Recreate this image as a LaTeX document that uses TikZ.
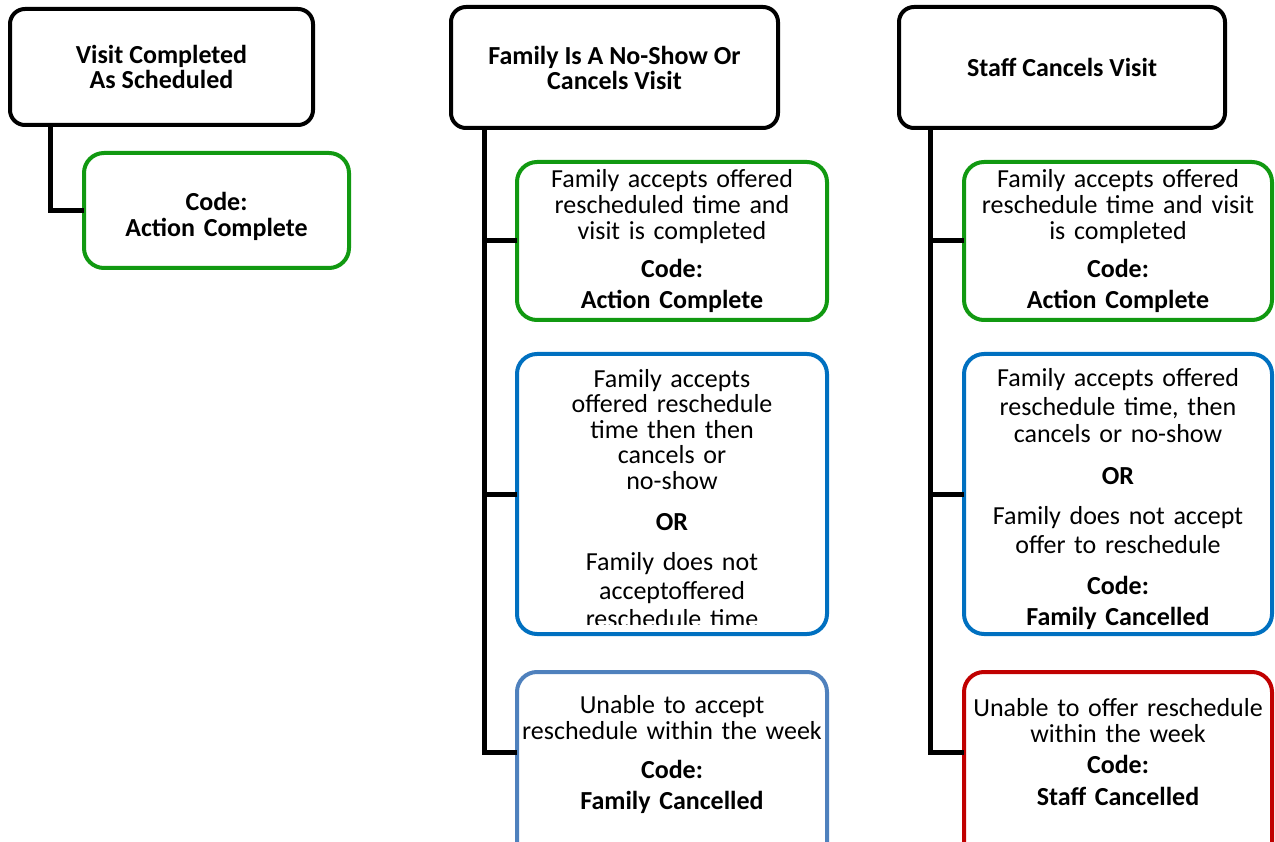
\documentclass[tikz,border=0pt]{standalone}
\usepackage{fontspec}
\setmainfont{Carlito}
\usetikzlibrary{positioning}
\definecolor{codegreen}{RGB}{17,153,17}
\definecolor{codeblue}{RGB}{0,112,192}
\definecolor{codelblue}{RGB}{79,129,189}
\definecolor{codered}{RGB}{192,0,0}

\begin{document}
\begin{tikzpicture}[x=1pt, y=1pt,
  head/.style={draw, line width=4pt, rounded corners=15pt, align=center, inner sep=0pt, outer sep=0pt, font=\bfseries\fontsize{26}{25}\selectfont},
  codebox/.style={draw, line width=4pt, rounded corners=20pt, align=center, inner xsep=4pt, inner ysep=0pt, outer sep=0pt, font=\fontsize{26}{26}\selectfont},
  openbox/.style={codebox, inner ysep=23pt, text depth=130pt},
  link/.style={line width=5pt}]
\useasboundingbox (0,0) rectangle (1275,-842);

% Define nodes
\node[head, minimum width=303pt, minimum height=116pt, anchor=north west] (visit) at (10,-9) {Visit Completed\\As Scheduled};
\node[head, minimum width=327pt, minimum height=121pt, right=138pt of visit.north east, anchor=north west, yshift=2pt] (family) {Family Is A No-Show Or\\Cancels Visit};
\node[head, minimum width=326pt, minimum height=121pt, right=121pt of family.north east, anchor=north west] (staff) {Staff Cancels Visit};

\node[codebox, draw=codegreen, text width=257pt, text height=58pt, text depth=57pt, below right=28pt and 74pt of visit.south west] (visitdone) {\textbf{Code:}\\\textbf{Action Complete}};

\node[codebox, draw=codegreen, text width=302pt, minimum height=158pt, below right=34pt and 66pt of family.south west] (famok) {Family accepts offered\\rescheduled time and\\visit is completed\\[12pt]\textbf{Code:}\\[5pt]\textbf{Action Complete}};
\node[codebox, draw=codeblue, text width=302pt, minimum height=280pt, below=34pt of famok.south west, anchor=north west] (famno) {};
\node[openbox, draw=codelblue, text width=302pt, below=38pt of famno.south west, anchor=north west] (famcancel) {Unable to accept\\reschedule within the week\\[13pt]\textbf{Code:}\\[5pt]\textbf{Family Cancelled}};

\node[codebox, draw=codegreen, text width=300pt, minimum height=158pt, below right=34pt and 65pt of staff.south west] (staffok) {Family accepts offered\\reschedule time and visit\\is completed\\[12pt]\textbf{Code:}\\[5pt]\textbf{Action Complete}};
\node[codebox, draw=codeblue, text width=300pt, text height=32pt, text depth=248pt, below=34pt of staffok.south west, anchor=north west] (staffno) {Family accepts offered\\[3pt]reschedule time, then\\[2pt]cancels or no-show\\[16pt]\textbf{OR}\\[14pt]Family does not accept\\[3pt]offer to reschedule\\[15pt]\textbf{Code:}\\[5pt]\textbf{Family Cancelled}};
\node[openbox, draw=codered, text width=300pt, inner ysep=26pt, below=38pt of staffno.south west, anchor=north west] (staffcancel) {Unable to offer reschedule\\within the week\\[5pt]\textbf{Code:}\\[6pt]\textbf{Staff Cancelled}};

% text of the blue box runs past its frame
\begin{scope}
\clip ([yshift=10pt]famno.south west) rectangle (famno.north east);
\node[align=center, text width=302pt, inner sep=0pt, anchor=north, font=\fontsize{26}{25.5}\selectfont] (famnotext) at ([yshift=-15pt]famno.north) {Family accepts\\offered reschedule\\time then then\\cancels or\\no-show\\[16pt]\textbf{OR}\\[14pt]Family does not\\[3.5pt]acceptoffered\\[2.5pt]reschedule time};
\end{scope}

% Edges
\coordinate (famtrunk) at ([xshift=33pt]family.south west);
\coordinate (stafftrunk) at ([xshift=31pt]staff.south west);
\draw[link] ([xshift=40pt]visit.south west) |- (visitdone.west);
\draw[link] (famtrunk) |- ([yshift=-80pt]famcancel.north west);
\draw[link] (famok.west) -- (famok.west -| famtrunk);
\draw[link] (famno.west) -- (famno.west -| famtrunk);
\draw[link] (stafftrunk) |- ([yshift=-80pt]staffcancel.north west);
\draw[link] (staffok.west) -- (staffok.west -| stafftrunk);
\draw[link] (staffno.west) -- (staffno.west -| stafftrunk);
\end{tikzpicture}
\end{document}
